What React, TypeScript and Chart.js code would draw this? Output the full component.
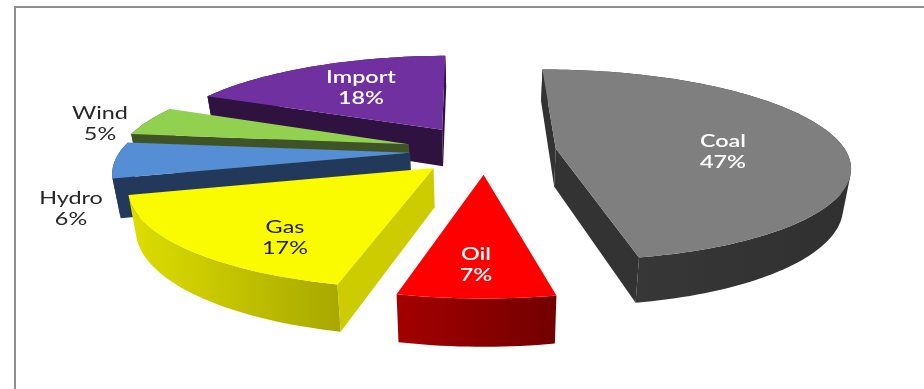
import React, { useEffect, useRef } from "react";
import { Chart, registerables } from "chart.js";

Chart.register(...registerables);

const categories = ["Coal", "Oil", "Gas", "Hydro", "Wind", "Import"];
const shares = [47, 7, 17, 6, 5, 18];
const explodeOffsets = [42, 41.5, 42, 44, 47, 48];

const topColors = ["#7f7f7f", "#ff0000", "#fbfb00", "#558ed5", "#92d050", "#7030a0"];
const sideColors = ["#333333", "#7a0000", "#cccc00", "#23395b", "#3e5426", "#2f1240"];
const rimFrom = ["#3a3a3a", "#a40000", "#dede00", "#23395b", "#3e5426", "#2f1240"];
const rimTo = ["#303030", "#720000", "#a8a800", "#23395b", "#3e5426", "#2f1240"];
const labelColors = ["#ffffff", "#ffffff", "#1c1c1c", "#262626", "#262626", "#ffffff"];
const labelWeights = [600, 600, 400, 400, 400, 600];
const labelCentres = [
  [723, 152],
  [476, 265],
  [285, 237.5],
  [71, 208.5],
  [100, 123.5],
  [361, 88],
];

// Camera used to lay the flat pie onto a receding ground plane.
const VANISH_X = 485;
const HORIZON_Y = -394;
const PIE_Y = 151;
const CAMERA_DIST = 1693;
const PIE_RADIUS = 290;
const WALL_HEIGHT = 38;
const WALL_TAPER = 0.022;
const START_ANGLE = -0.7;

type Pt = [number, number];

function project(u: number, v: number): Pt {
  const s = CAMERA_DIST / (CAMERA_DIST - v);
  return [VANISH_X + u * s, HORIZON_Y + (PIE_Y - HORIZON_Y) * s];
}

function drop([x, y]: Pt): Pt {
  const s = (y - HORIZON_Y) / (PIE_Y - HORIZON_Y);
  return [VANISH_X + (x - VANISH_X) * (1 - WALL_TAPER), y + WALL_HEIGHT * s];
}

function fillPath(ctx: CanvasRenderingContext2D, pts: Pt[], fill: string | CanvasGradient) {
  ctx.beginPath();
  pts.forEach(([x, y], i) => (i ? ctx.lineTo(x, y) : ctx.moveTo(x, y)));
  ctx.closePath();
  ctx.fillStyle = fill;
  ctx.fill();
}

// Fills the strip under the rim as one path, every quad wound the same way, so no seams show.
function fillStrip(ctx: CanvasRenderingContext2D, rim: Pt[], fill: CanvasGradient) {
  ctx.beginPath();
  for (let n = 0; n + 1 < rim.length; n++) {
    let quad = [rim[n], rim[n + 1], drop(rim[n + 1]), drop(rim[n])];
    let area = 0;
    quad.forEach(([x, y], j) => {
      const [nx, ny] = quad[(j + 1) % 4];
      area += x * ny - nx * y;
    });
    if (area < 0) quad = quad.reverse();
    quad.forEach(([x, y], j) => (j ? ctx.lineTo(x, y) : ctx.moveTo(x, y)));
    ctx.closePath();
  }
  ctx.fillStyle = fill;
  ctx.fill();
}

// A radial face shows only when the wedge's top lies above the edge it hangs from.
function faceShows(a: Pt, b: Pt, inner: Pt) {
  const t = (inner[0] - a[0]) / (b[0] - a[0] || 1e-6);
  return a[1] + (b[1] - a[1]) * t > inner[1];
}

// Draws the arcs that Chart.js laid out as extruded wedges, far slices first.
const extrudedPie = {
  id: "extrudedPie",
  beforeDatasetDraw(chart: any) {
    const { ctx } = chart;
    const arcs = chart.getDatasetMeta(0).data as any[];
    const order = arcs
      .map((arc, i) => ({ arc, i, mid: (arc.startAngle + arc.endAngle) / 2 }))
      .sort((a, b) => Math.sin(a.mid) - Math.sin(b.mid));

    for (const { arc, i, mid } of order) {
      const k = PIE_RADIUS / arc.outerRadius;
      const off = arc.options.offset * k;
      const u0 = Math.cos(mid) * off;
      const v0 = Math.sin(mid) * off;
      const steps = Math.max(8, Math.ceil((arc.endAngle - arc.startAngle) * 40));
      const rim: Pt[] = [];
      for (let n = 0; n <= steps; n++) {
        const a = arc.startAngle + ((arc.endAngle - arc.startAngle) * n) / steps;
        rim.push(project(u0 + Math.cos(a) * PIE_RADIUS, v0 + Math.sin(a) * PIE_RADIUS));
      }
      const apex = project(u0, v0);
      const xs = rim.map((p) => p[0]);
      const grad = ctx.createLinearGradient(Math.min(...xs), 0, Math.max(...xs), 0);
      // Rim colours run left to right on screen.
      grad.addColorStop(0, rimFrom[i]);
      grad.addColorStop(1, rimTo[i]);

      fillStrip(ctx, rim, grad);
      const inner = rim[Math.floor(steps / 2)];
      for (const end of [rim[0], rim[steps]]) {
        if (faceShows(apex, end, inner)) {
          fillPath(ctx, [apex, end, drop(end), drop(apex)], sideColors[i]);
        }
      }
      fillPath(ctx, [apex, ...rim], topColors[i]);
    }
    return false;
  },
  afterDatasetsDraw(chart: any) {
    const { ctx } = chart;
    ctx.save();
    ctx.textAlign = "center";
    ctx.textBaseline = "middle";
    categories.forEach((name, i) => {
      const [x, y] = labelCentres[i];
      ctx.font = `${labelWeights[i]} 18px Lato`;
      ctx.fillStyle = labelColors[i];
      ctx.save();
      ctx.translate(x, y);
      ctx.scale(1.3, 1);
      ctx.fillText(name, 0, -10.5);
      ctx.fillText(`${shares[i]}%`, 0, 10.5);
      ctx.restore();
    });
    ctx.restore();
  },
};

export default function App() {
  const ref = useRef<HTMLCanvasElement>(null);

  useEffect(() => {
    const chart = new Chart(ref.current!, {
      type: "pie",
      data: {
        labels: categories,
        datasets: [
          {
            data: shares,
            offset: explodeOffsets,
            backgroundColor: topColors,
            borderWidth: 0,
          },
        ],
      },
      options: {
        animation: false,
        responsive: false,
        devicePixelRatio: 1,
        rotation: START_ANGLE,
        plugins: { legend: { display: false }, tooltip: { enabled: false } },
      },
      plugins: [extrudedPie],
    } as any);
    return () => chart.destroy();
  }, []);

  return (
    <div style={{ position: "absolute", left: 0, top: 0, width: 924, height: 389, overflow: "hidden", background: "#fff" }}>
      <canvas ref={ref} width={924} height={389} style={{ display: "block" }} />
      <div
        style={{
          position: "absolute",
          left: 14,
          top: 6,
          right: 0,
          bottom: 0,
          borderTop: "2px solid #8f8f8f",
          borderLeft: "2px solid #8f8f8f",
          pointerEvents: "none",
        }}
      />
    </div>
  );
}
